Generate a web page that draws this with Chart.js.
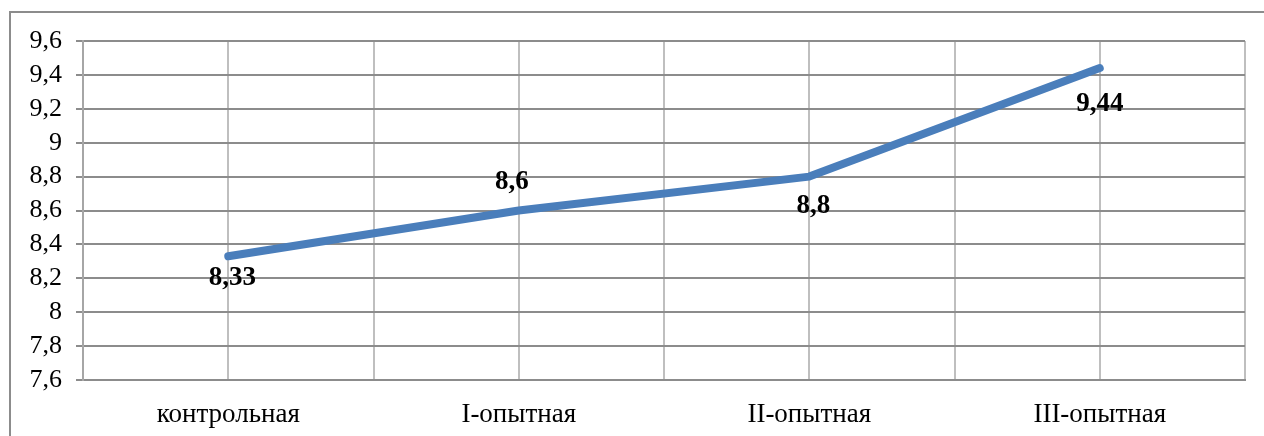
<!DOCTYPE html>
<html lang="ru">
<head>
<meta charset="utf-8">
<title>Опыт</title>
<script src="https://cdn.jsdelivr.net/npm/chart.js@4/dist/chart.umd.min.js"></script>
<style>
  html, body { margin: 0; padding: 0; background: #fff; }
  #wrap { position: relative; width: 1264px; height: 436px; }
</style>
</head>
<body>
<div id="wrap"><canvas id="chart"></canvas></div>
<script>
// Values per group
const groups = ['контрольная', 'I-опытная', 'II-опытная', 'III-опытная'];
const values = [8.33, 8.6, 8.8, 9.44];
const yTicks = [7.6, 7.8, 8, 8.2, 8.4, 8.6, 8.8, 9, 9.2, 9.4, 9.6];

// where each value label sits relative to its point (px)
const labelShift = [[4, 22], [-7, -28], [4, 29], [0, 36]];

const serif = "'Liberation Serif', 'Times New Roman', serif";
const fmt = v => String(Number(v.toFixed(2))).replace('.', ',');

// outer frame (top and left edges) plus bold value labels
const extras = {
    id: 'extras',
    beforeDraw(chart) {
        const ctx = chart.ctx;
        ctx.save();
        ctx.strokeStyle = '#8c8c8c';
        ctx.lineWidth = 2;
        ctx.beginPath();
        ctx.moveTo(10, 436);
        ctx.lineTo(10, 12);
        ctx.lineTo(1264, 12);
        ctx.stroke();
        ctx.restore();
    },
    afterDatasetsDraw(chart) {
        const ctx = chart.ctx;
        const meta = chart.getDatasetMeta(0);
        ctx.save();
        ctx.font = 'bold 27px ' + serif;
        ctx.fillStyle = '#000';
        ctx.textAlign = 'center';
        ctx.textBaseline = 'middle';
        meta.data.forEach((pt, i) => {
            ctx.fillText(fmt(values[i]), pt.x + labelShift[i][0], pt.y + labelShift[i][1]);
        });
        ctx.restore();
    }
};

new Chart(document.getElementById('chart'), {
    type: 'line',
    data: {
        datasets: [{
            data: values.map((v, i) => ({ x: i, y: v })),
            borderColor: '#4a7ebb',
            borderWidth: 8,
            borderCapStyle: 'round',
            borderJoinStyle: 'round',
            pointRadius: 0,
            tension: 0,
            fill: false
        }]
    },
    options: {
        responsive: true,
        maintainAspectRatio: false,
        animation: false,
        layout: { padding: { top: 41, right: 19, left: 0, bottom: 0 } },
        plugins: {
            legend: { display: false },
            tooltip: { enabled: false }
        },
        scales: {
            x: {
                type: 'linear',
                min: -0.5,
                max: groups.length - 0.5,
                afterBuildTicks: scale => {
                    const t = [];
                    for (let v = -0.5; v <= groups.length - 0.5; v += 0.5) t.push({ value: v });
                    scale.ticks = t;
                },
                afterFit: scale => { scale.height = 56; },
                ticks: {
                    autoSkip: false,
                    maxRotation: 0,
                    padding: 19,
                    color: '#000',
                    font: { family: serif, size: 27 },
                    callback: v => Number.isInteger(v) ? groups[v] : ''
                },
                grid: { color: '#bfbfbf', lineWidth: 2, drawTicks: false },
                border: { color: '#8c8c8c', width: 2 }
            },
            y: {
                min: 7.6,
                max: 9.6,
                afterBuildTicks: scale => {
                    scale.ticks = yTicks.map(v => ({ value: v }));
                },
                afterFit: scale => { scale.width = 83; },
                ticks: {
                    autoSkip: false,
                    padding: 14,
                    color: '#000',
                    font: { family: serif, size: 26 },
                    callback: v => fmt(v)
                },
                grid: { color: '#8c8c8c', lineWidth: 2, tickLength: 7 },
                border: { color: '#a6a6a6', width: 2 }
            }
        }
    },
    plugins: [extras]
});
</script>
</body>
</html>
